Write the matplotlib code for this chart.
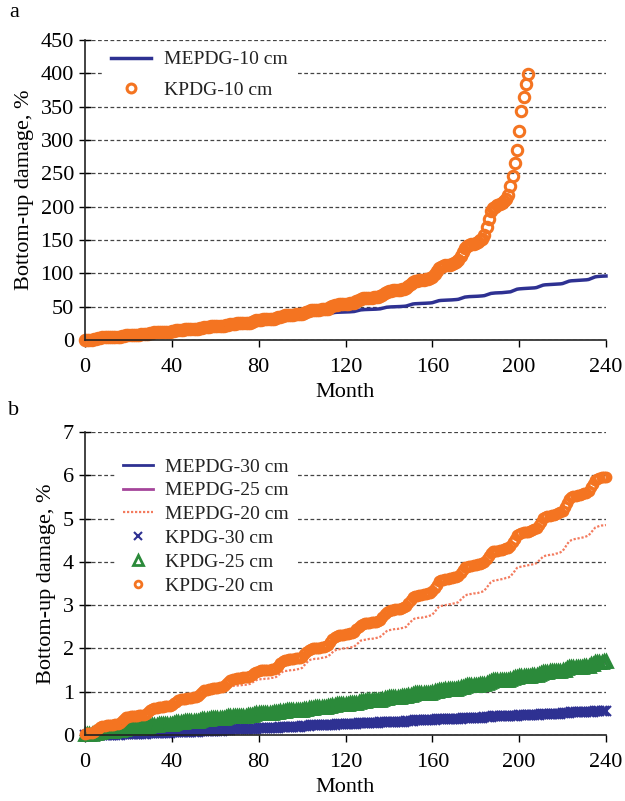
# -*- coding: utf-8 -*-
# Bottom-up damage vs month : MEPDG vs KPDG (a: 10 cm, b: 20/25/30 cm)
import matplotlib.pyplot as plt
import numpy as np

plt.rcParams['font.family'] = ['Liberation Serif', 'DejaVu Serif']
plt.rcParams['font.size'] = 16

#%% data, panel a  (%, one value per month)
mepdg_10 = [
    0, 0.2, 0.4, 0.5, 0.9, 1.8, 2.7, 3.6, 4.0, 4.1, 4.3, 4.4,
    4.5, 4.6, 4.8, 4.9, 5.2, 5.9, 6.6, 7.3, 7.6, 7.7, 7.9, 7.9,
    8, 8.2, 8.3, 8.5, 8.8, 9.6, 10.4, 11.2, 11.5, 11.7, 11.8, 11.9,
    12, 12.2, 12.3, 12.5, 12.8, 13.6, 14.4, 15.2, 15.5, 15.7, 15.8, 15.9,
    16, 16.2, 16.4, 16.5, 16.9, 17.8, 18.7, 19.6, 20.0, 20.1, 20.3, 20.4,
    20.5, 20.7, 20.9, 21.0, 21.4, 22.3, 23.2, 24.1, 24.5, 24.6, 24.8, 24.9,
    25, 25.2, 25.4, 25.6, 26, 27, 28, 29, 29.4, 29.6, 29.8, 29.9,
    30, 30.2, 30.4, 30.6, 31, 32, 33, 34, 34.4, 34.6, 34.8, 34.9,
    35, 35.1, 35.3, 35.4, 35.7, 36.4, 37.1, 37.8, 38.1, 38.2, 38.4, 38.4,
    38.5, 38.6, 38.8, 38.9, 39.2, 39.9, 40.6, 41.3, 41.6, 41.7, 41.9, 41.9,
    42, 42.2, 42.3, 42.5, 42.8, 43.6, 44.4, 45.2, 45.5, 45.7, 45.8, 45.9,
    46, 46.2, 46.3, 46.5, 46.8, 47.6, 48.4, 49.2, 49.5, 49.7, 49.8, 49.9,
    50, 50.2, 50.4, 50.6, 51, 52, 53, 54, 54.4, 54.6, 54.8, 54.9,
    55, 55.2, 55.4, 55.6, 56, 57, 58, 59, 59.4, 59.6, 59.8, 59.9,
    60, 60.2, 60.4, 60.7, 61.1, 62.2, 63.3, 64.4, 64.8, 65.1, 65.3, 65.4,
    65.5, 65.7, 65.9, 66.2, 66.6, 67.7, 68.8, 69.9, 70.3, 70.6, 70.8, 70.9,
    71, 71.3, 71.5, 71.8, 72.3, 73.6, 74.9, 76.2, 76.7, 77, 77.2, 77.4,
    77.5, 77.7, 78, 78.2, 78.7, 79.9, 81.1, 82.3, 82.8, 83, 83.3, 83.4,
    83.5, 83.7, 84, 84.2, 84.7, 85.9, 87.1, 88.3, 88.8, 89, 89.3, 89.4,
    89.5, 89.8, 90, 90.3, 90.8, 92.1, 93.4, 94.7, 95.2, 95.5, 95.7, 95.9,
    96]

kpdg_10 = [
    0, 0.2, 0.4, 0.5, 0.9, 1.8, 2.7, 3.6, 4.0, 4.1, 4.3, 4.4,
    4.5, 4.6, 4.8, 4.9, 5.2, 5.9, 6.6, 7.3, 7.6, 7.7, 7.9, 7.9,
    8, 8.2, 8.3, 8.5, 8.8, 9.6, 10.4, 11.2, 11.5, 11.7, 11.8, 11.9,
    12, 12.2, 12.3, 12.5, 12.8, 13.6, 14.4, 15.2, 15.5, 15.7, 15.8, 15.9,
    16, 16.2, 16.4, 16.5, 16.9, 17.8, 18.7, 19.6, 20.0, 20.1, 20.3, 20.4,
    20.5, 20.7, 20.9, 21.0, 21.4, 22.3, 23.2, 24.1, 24.5, 24.6, 24.8, 24.9,
    25, 25.2, 25.5, 25.7, 26.2, 27.4, 28.6, 29.8, 30.3, 30.5, 30.8, 30.9,
    31, 31.3, 31.6, 31.8, 32.4, 33.8, 35.2, 36.6, 37.2, 37.4, 37.7, 37.9,
    38, 38.3, 38.6, 38.9, 39.5, 41, 42.5, 44, 44.6, 44.9, 45.2, 45.4,
    45.5, 45.8, 46.2, 46.5, 47.2, 48.9, 50.6, 52.3, 53, 53.3, 53.7, 53.8,
    54, 54.4, 54.8, 55.1, 55.9, 57.8, 59.7, 61.6, 62.4, 62.7, 63.1, 63.3,
    63.5, 64, 64.4, 64.9, 65.8, 68.1, 70.4, 72.7, 73.6, 74.1, 74.5, 74.8,
    75, 75.6, 76.2, 76.8, 78, 81, 84, 87, 88.2, 88.8, 89.4, 89.7,
    90, 90.9, 91.8, 92.8, 94.6, 99.2, 103.8, 108.4, 110.2, 111.2, 112.1, 112.5,
    113, 114.3, 115.6, 116.8, 119.4, 125.8, 132.2, 138.6, 141.2, 142.4, 143.7, 144.4,
    145, 147.4, 149.8, 152.2, 157, 169, 181, 193, 197.8, 200.2, 202.6, 203.8,
    205, 208, 212, 217, 231, 246, 265, 285, 313, 344, 365, 384, 399]

#%% data, panel b
kpdg_20 = [
    0.03, 0.04, 0.05, 0.05, 0.07, 0.11, 0.15, 0.19, 0.21, 0.21, 0.22, 0.23,
    0.23, 0.24, 0.25, 0.26, 0.27, 0.32, 0.36, 0.41, 0.42, 0.43, 0.44, 0.45,
    0.45, 0.46, 0.47, 0.47, 0.49, 0.53, 0.57, 0.61, 0.63, 0.63, 0.64, 0.65,
    0.65, 0.66, 0.67, 0.67, 0.69, 0.73, 0.77, 0.81, 0.83, 0.83, 0.84, 0.85,
    0.85, 0.86, 0.87, 0.88, 0.90, 0.94, 0.99, 1.03, 1.05, 1.06, 1.07, 1.08,
    1.08, 1.09, 1.10, 1.11, 1.13, 1.18, 1.22, 1.27, 1.29, 1.30, 1.31, 1.32,
    1.32, 1.33, 1.33, 1.34, 1.36, 1.39, 1.43, 1.46, 1.48, 1.49, 1.49, 1.50,
    1.50, 1.51, 1.52, 1.53, 1.55, 1.60, 1.66, 1.71, 1.73, 1.74, 1.75, 1.75,
    1.76, 1.77, 1.78, 1.79, 1.81, 1.86, 1.92, 1.97, 1.99, 2.00, 2.01, 2.01,
    2.02, 2.03, 2.04, 2.06, 2.08, 2.14, 2.21, 2.27, 2.29, 2.31, 2.31, 2.32,
    2.33, 2.34, 2.35, 2.36, 2.38, 2.44, 2.49, 2.55, 2.57, 2.58, 2.59, 2.59,
    2.60, 2.61, 2.62, 2.64, 2.66, 2.72, 2.79, 2.85, 2.87, 2.89, 2.89, 2.90,
    2.91, 2.92, 2.94, 2.95, 2.98, 3.05, 3.11, 3.18, 3.21, 3.22, 3.23, 3.24,
    3.25, 3.26, 3.28, 3.29, 3.32, 3.40, 3.47, 3.55, 3.58, 3.59, 3.60, 3.61,
    3.62, 3.63, 3.64, 3.66, 3.68, 3.74, 3.81, 3.87, 3.89, 3.91, 3.91, 3.92,
    3.93, 3.94, 3.96, 3.97, 4.00, 4.07, 4.14, 4.21, 4.24, 4.25, 4.26, 4.27,
    4.28, 4.30, 4.31, 4.33, 4.36, 4.45, 4.53, 4.62, 4.65, 4.67, 4.68, 4.69,
    4.70, 4.72, 4.73, 4.75, 4.78, 4.86, 4.93, 5.01, 5.04, 5.06, 5.07, 5.08,
    5.09, 5.11, 5.13, 5.15, 5.18, 5.27, 5.37, 5.46, 5.49, 5.51, 5.53, 5.54,
    5.55, 5.57, 5.58, 5.60, 5.63, 5.72, 5.80, 5.89, 5.92, 5.94, 5.95, 5.96,
    5.97]

mepdg_20 = [
    0.03, 0.04, 0.05, 0.05, 0.07, 0.11, 0.15, 0.19, 0.21, 0.21, 0.22, 0.23,
    0.23, 0.24, 0.25, 0.26, 0.27, 0.32, 0.36, 0.41, 0.42, 0.43, 0.44, 0.45,
    0.45, 0.46, 0.47, 0.47, 0.49, 0.53, 0.57, 0.61, 0.63, 0.63, 0.64, 0.65,
    0.65, 0.66, 0.66, 0.67, 0.69, 0.72, 0.76, 0.79, 0.81, 0.82, 0.82, 0.83,
    0.83, 0.84, 0.84, 0.85, 0.86, 0.90, 0.93, 0.97, 0.98, 0.99, 0.99, 1.00,
    1.00, 1.01, 1.01, 1.02, 1.03, 1.06, 1.09, 1.12, 1.13, 1.14, 1.14, 1.15,
    1.15, 1.16, 1.16, 1.17, 1.18, 1.21, 1.24, 1.27, 1.28, 1.29, 1.29, 1.30,
    1.30, 1.31, 1.32, 1.32, 1.34, 1.38, 1.42, 1.46, 1.48, 1.48, 1.49, 1.50,
    1.50, 1.51, 1.52, 1.53, 1.55, 1.61, 1.66, 1.72, 1.74, 1.75, 1.76, 1.76,
    1.77, 1.78, 1.79, 1.80, 1.82, 1.86, 1.91, 1.95, 1.97, 1.98, 1.99, 2.00,
    2.00, 2.01, 2.02, 2.03, 2.04, 2.09, 2.13, 2.18, 2.19, 2.20, 2.21, 2.22,
    2.22, 2.23, 2.24, 2.25, 2.27, 2.31, 2.36, 2.40, 2.42, 2.43, 2.44, 2.45,
    2.45, 2.46, 2.47, 2.48, 2.50, 2.56, 2.61, 2.67, 2.69, 2.70, 2.71, 2.71,
    2.72, 2.73, 2.74, 2.76, 2.78, 2.84, 2.90, 2.96, 2.98, 2.99, 3.00, 3.01,
    3.02, 3.03, 3.04, 3.05, 3.07, 3.12, 3.17, 3.22, 3.24, 3.25, 3.26, 3.27,
    3.27, 3.28, 3.30, 3.31, 3.34, 3.40, 3.47, 3.53, 3.56, 3.57, 3.58, 3.59,
    3.60, 3.61, 3.63, 3.64, 3.66, 3.73, 3.79, 3.86, 3.88, 3.89, 3.90, 3.91,
    3.92, 3.93, 3.94, 3.95, 3.97, 4.02, 4.07, 4.12, 4.14, 4.15, 4.16, 4.17,
    4.17, 4.19, 4.20, 4.22, 4.25, 4.32, 4.40, 4.47, 4.50, 4.52, 4.53, 4.54,
    4.55, 4.56, 4.57, 4.59, 4.61, 4.67, 4.73, 4.79, 4.81, 4.83, 4.84, 4.84,
    4.85]

kpdg_25 = [
    0.02, 0.02, 0.03, 0.03, 0.04, 0.05, 0.07, 0.08, 0.09, 0.09, 0.10, 0.10,
    0.10, 0.10, 0.11, 0.11, 0.11, 0.13, 0.14, 0.16, 0.16, 0.16, 0.17, 0.17,
    0.17, 0.17, 0.18, 0.18, 0.19, 0.20, 0.22, 0.23, 0.24, 0.24, 0.25, 0.25,
    0.25, 0.25, 0.26, 0.26, 0.26, 0.28, 0.29, 0.31, 0.31, 0.31, 0.32, 0.32,
    0.32, 0.32, 0.33, 0.33, 0.33, 0.35, 0.36, 0.38, 0.38, 0.38, 0.39, 0.39,
    0.39, 0.39, 0.39, 0.40, 0.40, 0.41, 0.43, 0.44, 0.44, 0.45, 0.45, 0.45,
    0.45, 0.45, 0.45, 0.46, 0.46, 0.47, 0.49, 0.50, 0.50, 0.51, 0.51, 0.51,
    0.51, 0.51, 0.51, 0.52, 0.52, 0.53, 0.55, 0.56, 0.56, 0.57, 0.57, 0.57,
    0.57, 0.57, 0.58, 0.58, 0.58, 0.60, 0.61, 0.63, 0.63, 0.63, 0.64, 0.64,
    0.64, 0.64, 0.65, 0.65, 0.66, 0.67, 0.69, 0.70, 0.71, 0.71, 0.72, 0.72,
    0.72, 0.72, 0.73, 0.73, 0.74, 0.75, 0.77, 0.78, 0.79, 0.79, 0.80, 0.80,
    0.80, 0.80, 0.81, 0.81, 0.82, 0.83, 0.85, 0.86, 0.87, 0.87, 0.88, 0.88,
    0.88, 0.88, 0.89, 0.89, 0.90, 0.92, 0.93, 0.95, 0.96, 0.96, 0.97, 0.97,
    0.97, 0.97, 0.98, 0.98, 0.99, 1.01, 1.02, 1.04, 1.05, 1.05, 1.06, 1.06,
    1.06, 1.06, 1.07, 1.07, 1.08, 1.10, 1.12, 1.14, 1.15, 1.15, 1.16, 1.16,
    1.16, 1.16, 1.17, 1.17, 1.18, 1.20, 1.23, 1.25, 1.26, 1.26, 1.26, 1.27,
    1.27, 1.27, 1.28, 1.28, 1.29, 1.31, 1.33, 1.35, 1.36, 1.36, 1.37, 1.37,
    1.37, 1.37, 1.38, 1.38, 1.39, 1.41, 1.43, 1.45, 1.46, 1.46, 1.47, 1.47,
    1.47, 1.47, 1.48, 1.48, 1.49, 1.51, 1.54, 1.56, 1.57, 1.57, 1.57, 1.58,
    1.58, 1.58, 1.59, 1.59, 1.60, 1.63, 1.65, 1.68, 1.69, 1.69, 1.69, 1.70,
    1.70]

kpdg_30 = [
    0, 0, 0, 0, 0, 0, 0.01, 0.01, 0.01, 0.01, 0.01, 0.01,
    0.01, 0.01, 0.01, 0.01, 0.01, 0.02, 0.02, 0.03, 0.03, 0.03, 0.03, 0.03,
    0.03, 0.03, 0.03, 0.03, 0.03, 0.04, 0.04, 0.05, 0.05, 0.05, 0.05, 0.05,
    0.05, 0.05, 0.05, 0.05, 0.06, 0.06, 0.07, 0.07, 0.08, 0.08, 0.08, 0.08,
    0.08, 0.08, 0.08, 0.08, 0.08, 0.09, 0.09, 0.10, 0.10, 0.10, 0.10, 0.10,
    0.10, 0.10, 0.10, 0.10, 0.11, 0.11, 0.12, 0.12, 0.13, 0.13, 0.13, 0.13,
    0.13, 0.13, 0.13, 0.13, 0.14, 0.14, 0.15, 0.15, 0.16, 0.16, 0.16, 0.16,
    0.16, 0.16, 0.16, 0.16, 0.17, 0.17, 0.18, 0.18, 0.19, 0.19, 0.19, 0.19,
    0.19, 0.19, 0.19, 0.19, 0.20, 0.20, 0.21, 0.21, 0.22, 0.22, 0.22, 0.22,
    0.22, 0.22, 0.22, 0.22, 0.23, 0.23, 0.24, 0.24, 0.25, 0.25, 0.25, 0.25,
    0.25, 0.25, 0.25, 0.25, 0.26, 0.26, 0.27, 0.27, 0.28, 0.28, 0.28, 0.28,
    0.28, 0.28, 0.28, 0.28, 0.29, 0.29, 0.30, 0.30, 0.31, 0.31, 0.31, 0.31,
    0.31, 0.31, 0.31, 0.31, 0.32, 0.32, 0.33, 0.33, 0.34, 0.34, 0.34, 0.34,
    0.34, 0.34, 0.34, 0.34, 0.35, 0.35, 0.36, 0.36, 0.37, 0.37, 0.37, 0.37,
    0.37, 0.37, 0.37, 0.37, 0.38, 0.38, 0.39, 0.39, 0.40, 0.40, 0.40, 0.40,
    0.40, 0.40, 0.40, 0.40, 0.41, 0.41, 0.42, 0.42, 0.43, 0.43, 0.43, 0.43,
    0.43, 0.43, 0.43, 0.43, 0.44, 0.44, 0.45, 0.45, 0.46, 0.46, 0.46, 0.46,
    0.46, 0.46, 0.46, 0.46, 0.47, 0.47, 0.48, 0.48, 0.49, 0.49, 0.49, 0.49,
    0.49, 0.49, 0.49, 0.49, 0.50, 0.50, 0.51, 0.51, 0.52, 0.52, 0.52, 0.52,
    0.52, 0.52, 0.52, 0.53, 0.53, 0.54, 0.54, 0.55, 0.56, 0.56, 0.56, 0.56,
    0.56]

# MEPDG 25/30 cm sit under the KPDG markers, yearly values are enough
year_months = list(range(0, 241, 12))
mepdg_25 = [0.02, 0.09, 0.16, 0.24, 0.31, 0.38, 0.44, 0.50, 0.56, 0.63, 0.71,
            0.79, 0.87, 0.96, 1.05, 1.15, 1.25, 1.35, 1.45, 1.56, 1.68]
mepdg_30 = [0, 0.01, 0.03, 0.05, 0.07, 0.10, 0.13, 0.16, 0.19, 0.22, 0.25,
            0.28, 0.31, 0.34, 0.37, 0.40, 0.43, 0.46, 0.49, 0.52, 0.55]

#%% colours
c_blue = '#2e3192'
c_orange = '#f47421'
c_green = '#2b8a3a'
c_purple = '#a5459a'
c_red = '#f37b5e'


def style_axes(ax, ymax, ystep):
    ax.set_xlim(0, 240)
    ax.set_ylim(0, ymax)
    ax.set_xticks(np.arange(0, 241, 40))
    ax.set_yticks(np.arange(0, ymax + ystep / 2, ystep))
    ax.spines['top'].set_visible(False)
    ax.spines['right'].set_visible(False)
    for s in ['left', 'bottom']:
        ax.spines[s].set_linewidth(1.2)
        ax.spines[s].set_color('#222222')
    ax.tick_params(axis='y', direction='inout', length=8, width=1, pad=4)
    ax.tick_params(axis='x', direction='out', length=5, width=1, pad=8)
    ax.yaxis.grid(True, linestyle=(0, (3, 2)), color='#444444', linewidth=0.9)
    ax.set_axisbelow(True)
    ax.set_xlabel('Month', labelpad=4)
    ax.set_ylabel('Bottom-up damage, %', labelpad=5)


fig = plt.figure(figsize=(6.25, 8.01), dpi=100)

#%% panel a
ax1 = fig.add_axes([0.136, 0.5755, 0.8336, 0.3746])
ax1.plot(np.arange(len(mepdg_10)), mepdg_10, color=c_blue, lw=2.5,
         label='MEPDG-10 cm', clip_on=False)
ax1.plot(np.arange(len(kpdg_10)), kpdg_10, ls='none', marker='o', ms=7.5,
         mfc='none', mec=c_orange, mew=2.2, label='KPDG-10 cm', clip_on=False)
style_axes(ax1, 450, 50)
leg1 = ax1.legend(loc='upper left', bbox_to_anchor=(0.035, 0.99),
                  borderaxespad=0, handlelength=2.05, handletextpad=0.7,
                  labelspacing=0.65, fancybox=False, framealpha=1,
                  edgecolor='none', facecolor='white', fontsize=14,
                  markerscale=0.85)

#%% panel b
ax2 = fig.add_axes([0.136, 0.0824, 0.8336, 0.3783])
ax2.plot(year_months, mepdg_30, color=c_blue, lw=2, label='MEPDG-30 cm')
ax2.plot(year_months, mepdg_25, color=c_purple, lw=2, label='MEPDG-25 cm')
ax2.plot(np.arange(len(mepdg_20)), mepdg_20, color=c_red, lw=1.6,
         ls=(0, (1, 0.8)), label='MEPDG-20 cm')
ax2.plot(np.arange(len(kpdg_30)), kpdg_30, ls='none', marker='x', ms=7,
         mew=1.5, color=c_blue, label='KPDG-30 cm', clip_on=False)
ax2.plot(np.arange(len(kpdg_25)), kpdg_25, ls='none', marker='^', ms=9,
         mfc='none', mec=c_green, mew=2, label='KPDG-25 cm', clip_on=False)
ax2.plot(np.arange(len(kpdg_20)), kpdg_20, ls='none', marker='o', ms=6.5,
         mfc='none', mec=c_orange, mew=2, label='KPDG-20 cm', clip_on=False)
style_axes(ax2, 7, 1)
leg2 = ax2.legend(loc='upper left', bbox_to_anchor=(0.058, 0.94),
                  borderaxespad=0, handlelength=1.55, handletextpad=0.6,
                  labelspacing=0.32, fancybox=False, framealpha=1,
                  edgecolor='none', facecolor='white', fontsize=14,
                  markerscale=0.75)

for leg in (leg1, leg2):
    for t in leg.get_texts():
        t.set_color('#222222')

fig.text(0.015, 0.985, 'a', fontsize=16, va='center')
fig.text(0.012, 0.488, 'b', fontsize=16, va='center')

plt.savefig('out.png', dpi=100)
